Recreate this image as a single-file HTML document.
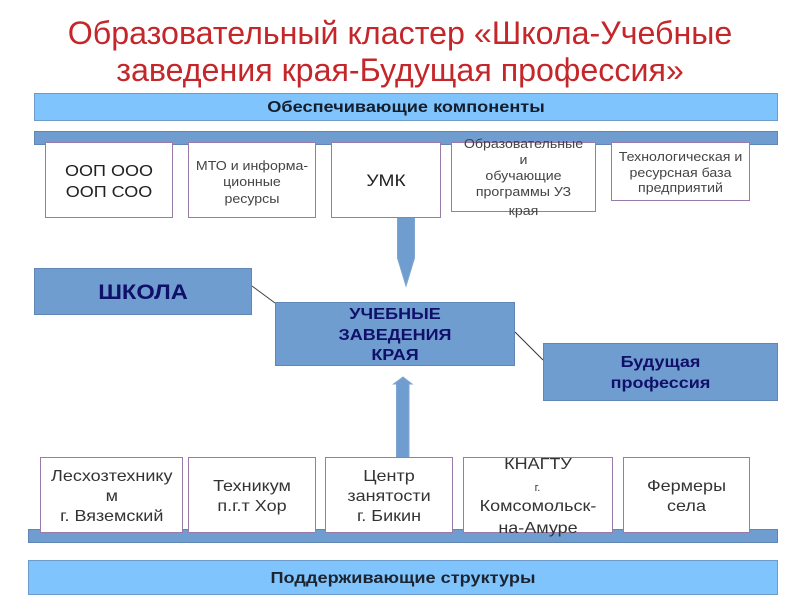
<!DOCTYPE html>
<html lang="ru">
<head>
<meta charset="utf-8">
<title>Образовательный кластер</title>
<style>
html,body{margin:0;padding:0;background:#fff;}
body{width:800px;height:600px;position:relative;overflow:hidden;font-family:"Liberation Sans",sans-serif;}
#p{position:absolute;left:0;top:0;width:800px;height:600px;filter:blur(.35px);}
.a{position:absolute;box-sizing:border-box;}
.t{position:absolute;left:0;width:100%;text-align:center;white-space:nowrap;}
.lb{background:#80c4fd;border:1px solid #6f9bc9;}
.db{background:#709dcf;border:1px solid #5f86b4;}
.w{background:#fff;border:1.5px solid #9a7aa8;color:#333;}
.n{color:#10106a;font-weight:bold;transform:scaleX(1.125);}
.s{font-size:13px;color:#444;transform:scaleX(1.09);}
.m{font-size:16px;line-height:20px;transform:scaleX(1.125);}
.b{font-size:16px;line-height:17px;font-weight:bold;transform:scaleX(1.135);}
</style>
</head>
<body>
<div id="p">
<div class="t" style="top:15px;font-size:32.2px;line-height:36.5px;color:#c4262a;">Образовательный кластер «Школа-Учебные<br>заведения края-Будущая профессия»</div>

<div class="a lb" style="left:34px;top:93px;width:744px;height:28px;"><div class="t b" style="top:5px;color:#141e2c;">Обеспечивающие компоненты</div></div>
<div class="a db" style="left:34px;top:131px;width:744px;height:14px;"></div>

<svg class="a" style="left:0;top:0;" width="800" height="600">
<polygon points="397.5,216 414.5,216 414.5,258 406,286 397.5,258" fill="#709dcf" stroke="#7fa6d2" stroke-width="1"/>
<polygon points="396.5,458 396.5,384 393.5,384 403,377 412,384 409,384 409,458" fill="#709dcf" stroke="#7fa6d2" stroke-width="1"/>
<line x1="252" y1="286" x2="275" y2="303" stroke="#444" stroke-width="1"/>
<line x1="515" y1="332" x2="543" y2="360" stroke="#333" stroke-width="1"/>
</svg>

<div class="a w" style="left:45px;top:142px;width:128px;height:76px;"><div class="t m" style="top:18px;line-height:21px;color:#222;">ООП ООО<br>ООП СОО</div></div>
<div class="a w" style="left:188px;top:142px;width:128px;height:76px;"><div class="t s" style="top:14.5px;line-height:16.5px;">МТО и информа-<br>ционные<br>ресурсы</div></div>
<div class="a w" style="left:331px;top:142px;width:110px;height:76px;"><div class="t m" style="top:27.5px;font-size:17px;color:#222;">УМК</div></div>
<div class="a w" style="left:451px;top:142px;width:145px;height:70px;"><div class="t s" style="top:-7.5px;line-height:16.3px;">Образовательные<br>и<br>обучающие<br>программы УЗ</div><div class="t s" style="top:60px;line-height:16px;">края</div></div>
<div class="a w" style="left:611px;top:142px;width:139px;height:59px;"><div class="t s" style="top:6px;line-height:15.7px;">Технологическая и<br>ресурсная база<br>предприятий</div></div>

<div class="a db" style="left:34px;top:268px;width:218px;height:47px;"><div class="t n" style="top:12px;font-size:21px;line-height:24px;">ШКОЛА</div></div>
<div class="a db" style="left:275px;top:302px;width:240px;height:64px;"><div class="t n" style="top:2px;font-size:16px;line-height:20.5px;">УЧЕБНЫЕ<br>ЗАВЕДЕНИЯ<br>КРАЯ</div></div>
<div class="a db" style="left:543px;top:343px;width:235px;height:58px;"><div class="t n" style="top:9px;font-size:16px;line-height:20.5px;">Будущая<br>профессия</div></div>

<div class="a db" style="left:28px;top:529px;width:750px;height:14px;"></div>
<div class="a w" style="left:39.5px;top:457px;width:143.5px;height:76px;"><div class="t m" style="top:9px;">Лесхозтехнику<br>м<br>г. Вяземский</div></div>
<div class="a w" style="left:188px;top:457px;width:128px;height:76px;"><div class="t m" style="top:19px;">Техникум<br>п.г.т Хор</div></div>
<div class="a w" style="left:325px;top:457px;width:128px;height:76px;"><div class="t m" style="top:9px;">Центр<br>занятости<br>г. Бикин</div></div>
<div class="a w" style="left:462.5px;top:457px;width:150px;height:76px;"><div class="t m" style="top:-3px;">КНАГТУ</div><div class="t" style="top:20px;font-size:11px;line-height:20px;">г.</div><div class="t m" style="top:38px;line-height:22px;">Комсомольск-<br>на-Амуре</div></div>
<div class="a w" style="left:622.5px;top:457px;width:127px;height:76px;"><div class="t m" style="top:19px;">Фермеры<br>села</div></div>

<div class="a lb" style="left:28px;top:560px;width:750px;height:35px;"><div class="t b" style="top:9px;color:#1c2430;">Поддерживающие структуры</div></div>
</div>
</body>
</html>
